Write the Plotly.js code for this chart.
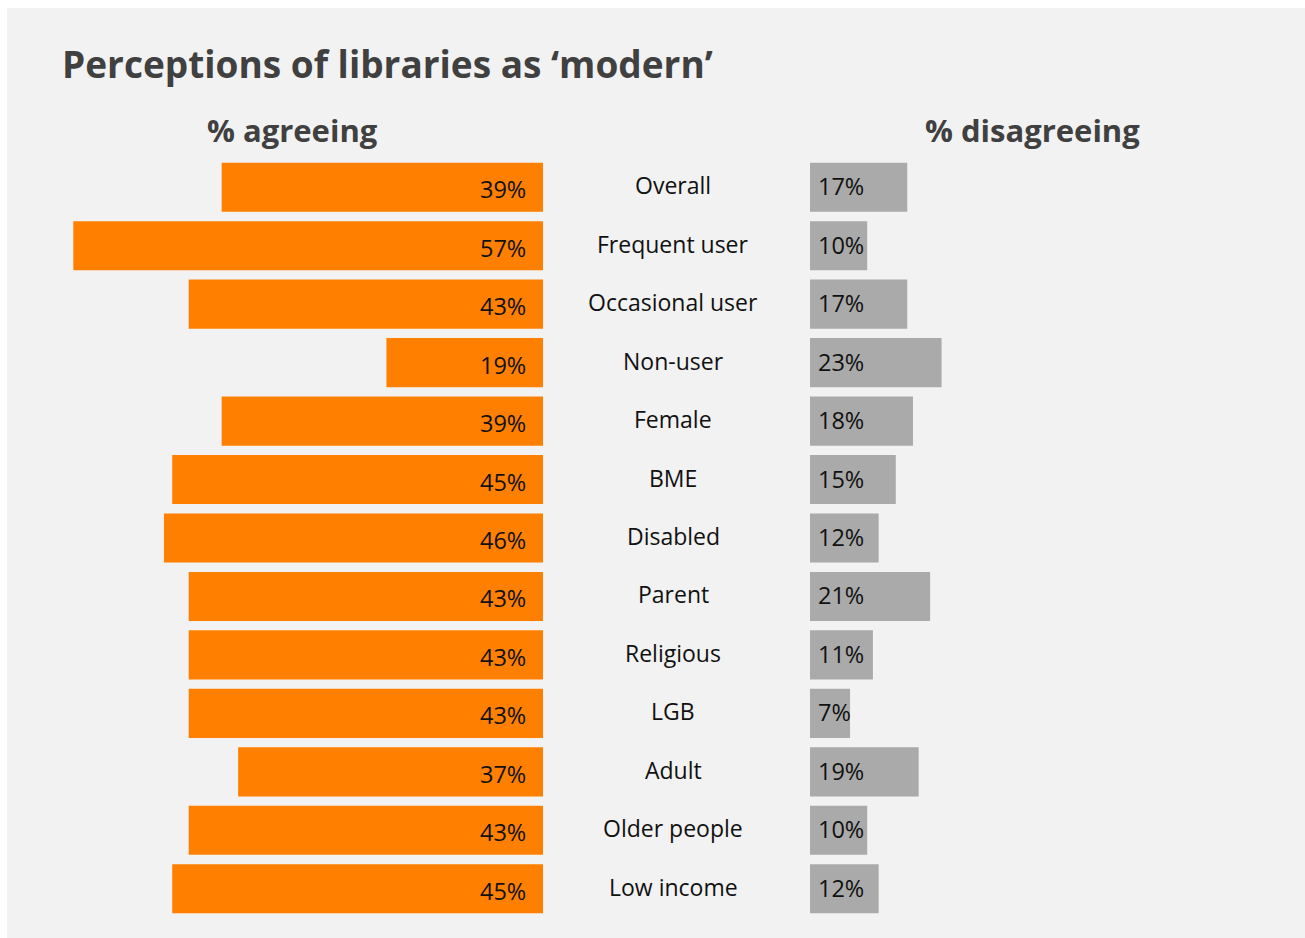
<!DOCTYPE html>
<html>
<head>
<meta charset="utf-8">
<script src="https://cdn.plot.ly/plotly-3.0.1.min.js"></script>
<style>
  html, body { margin: 0; padding: 0; background: #ffffff; }
  #wrap { position: absolute; left: 7px; top: 8px; width: 1298px; height: 930px; }
</style>
</head>
<body>
<div id="wrap"></div>
<script>
const categories = ["Overall", "Frequent user", "Occasional user", "Non-user", "Female", "BME", "Disabled", "Parent", "Religious", "LGB", "Adult", "Older people", "Low income"];
const agreeing = [39, 57, 43, 19, 39, 45, 46, 43, 43, 43, 37, 43, 45];
const disagreeing = [17, 10, 17, 23, 18, 15, 12, 21, 11, 7, 19, 10, 12];
const chartTitle = "Perceptions of libraries as ‘modern’";
const agreeTitle = "% agreeing";
const disagreeTitle = "% disagreeing";

const W = 1298, H = 930;
const fontFam = "'Open Sans', Lato, sans-serif";
const textColor = "#111111";

const traces = [
  {
    type: "bar", orientation: "h",
    x: agreeing, y: categories,
    xaxis: "x", yaxis: "y",
    marker: { color: "#ff8000" },
    width: 0.84,
    hoverinfo: "none"
  },
  {
    type: "bar", orientation: "h",
    x: disagreeing, y: categories,
    xaxis: "x2", yaxis: "y",
    marker: { color: "#aaaaaa" },
    width: 0.84,
    hoverinfo: "none"
  }
];

const annotations = [];
categories.forEach((c, i) => {
  annotations.push({
    xref: "x", yref: "y", x: 0, y: c,
    text: agreeing[i] + "%", showarrow: false,
    xanchor: "right", yanchor: "middle", xshift: -15, yshift: -2,
    font: { family: fontFam, size: 23.5, color: textColor }
  });
  annotations.push({
    xref: "x2", yref: "y", x: 0, y: c,
    text: disagreeing[i] + "%", showarrow: false,
    xanchor: "left", yanchor: "middle", xshift: 6, yshift: 1,
    font: { family: fontFam, size: 23.5, color: textColor }
  });
  annotations.push({
    xref: "paper", yref: "y", x: 666 / W, y: c,
    text: c, showarrow: false,
    xanchor: "center", yanchor: "middle", yshift: 2,
    font: { family: fontFam, size: 23, color: textColor }
  });
});

const mt = 150, mb = 20, ph = H - mt - mb;
function py(pix) { return (H - mb - pix) / ph; }

annotations.push({
  xref: "paper", yref: "paper", x: 285 / W, y: py(122),
  text: "<b>" + agreeTitle + "</b>", showarrow: false,
  xanchor: "center", yanchor: "middle",
  font: { family: fontFam, size: 31, color: "#404040" }
});
annotations.push({
  xref: "paper", yref: "paper", x: 1025 / W, y: py(122),
  text: "<b>" + disagreeTitle + "</b>", showarrow: false,
  xanchor: "center", yanchor: "middle",
  font: { family: fontFam, size: 31, color: "#404040" }
});

const layout = {
  width: W, height: H,
  paper_bgcolor: "#f2f2f2", plot_bgcolor: "rgba(0,0,0,0)",
  margin: { l: 0, r: 0, t: mt, b: mb },
  showlegend: false,
  barmode: "overlay",
  title: {
    text: "<b>" + chartTitle + "</b>",
    xref: "container", yref: "container",
    x: 55 / W, xanchor: "left",
    y: 1 - 57 / H, yanchor: "middle",
    font: { family: fontFam, size: 37, color: "#404040" }
  },
  xaxis: {
    domain: [41.6 / W, 536 / W], range: [60, 0],
    showgrid: false, zeroline: false, showticklabels: false, ticks: "", fixedrange: true
  },
  xaxis2: {
    domain: [803 / W, 1031.8 / W], range: [0, 40],
    showgrid: false, zeroline: false, showticklabels: false, ticks: "", fixedrange: true
  },
  yaxis: {
    type: "category", categoryorder: "array", categoryarray: categories,
    range: [12.5, -0.5],
    showgrid: false, zeroline: false, showticklabels: false, ticks: "", fixedrange: true
  },
  annotations: annotations
};

Plotly.newPlot("wrap", traces, layout, { displayModeBar: false, staticPlot: true });
</script>
</body>
</html>
